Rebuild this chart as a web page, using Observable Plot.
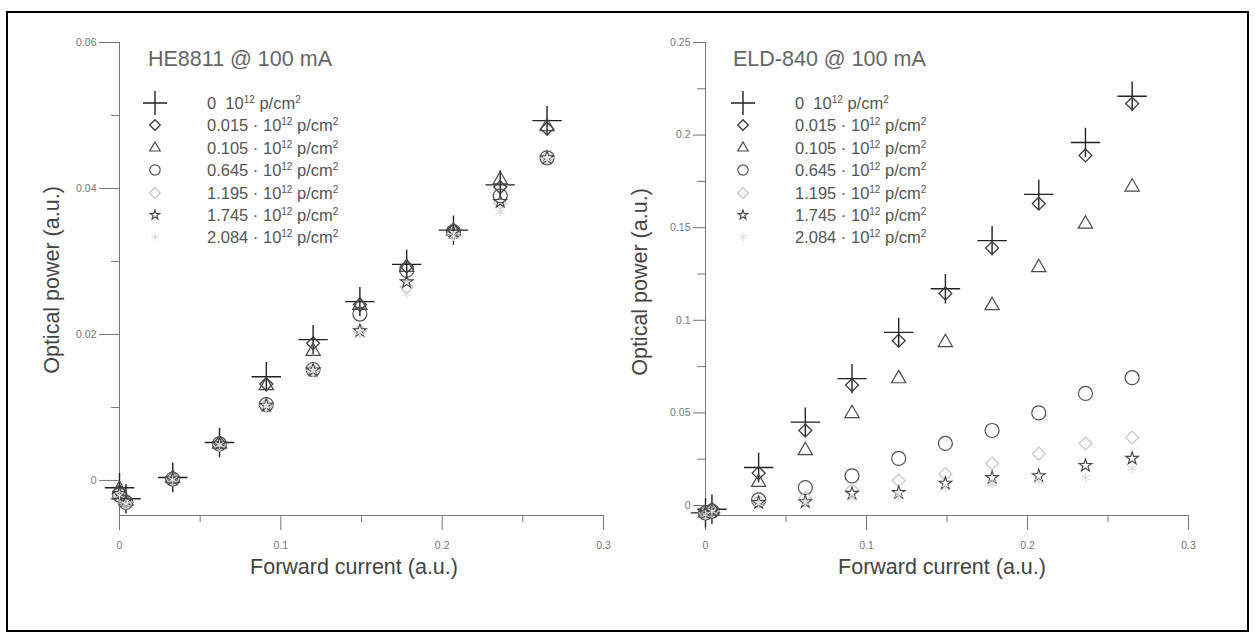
<!DOCTYPE html>
<html><head><meta charset="utf-8">
<script src="https://cdn.jsdelivr.net/npm/d3@7"></script>
<script src="https://cdn.jsdelivr.net/npm/@observablehq/plot@0.6"></script>
<style>
body{margin:0;background:#fff;font-family:"Liberation Sans",Arial,Helvetica,sans-serif;}
#page{position:relative;width:1255px;height:639px;overflow:hidden;background:#fff;}
#border{position:absolute;left:6px;top:11px;width:1243px;height:621px;border:2px solid #000;box-sizing:border-box;}
.plot{position:absolute;top:0;}
.ylab{position:absolute;font-size:21.5px;color:#444;white-space:nowrap;transform:translate(-50%,-50%) rotate(-90deg);}
.xlab{position:absolute;font-size:21.5px;color:#444;white-space:nowrap;transform:translate(-50%,-50%);}
.ltitle{position:absolute;font-size:21.5px;color:#666;white-space:nowrap;transform:translateY(-50%);}
.lrow{position:absolute;font-size:16.5px;color:#555;white-space:nowrap;transform:translateY(-50%);}
.lrow sup{font-size:10px;vertical-align:6px;line-height:0;}
.lsym{position:absolute;transform:translate(-50%,-50%);}
</style></head>
<body><div id="page"><div id="border"></div></div>
<script>
// ---------- data ----------
const current = [0, 0.004, 0.033, 0.062, 0.091, 0.120, 0.149, 0.178, 0.207, 0.236, 0.265];
const fluences = ["0", "0.015", "0.105", "0.645", "1.195", "1.745", "2.084"];

// HE8811 @ 100 mA
const he_0     = [-0.0010, -0.0025, 0.0004, 0.0052, 0.0142, 0.0193, 0.0245, 0.0296, 0.0343, 0.0405, 0.0493];
const he_0015  = [-0.0015, -0.0030, 0.0003, 0.0051, 0.0132, 0.0188, 0.0241, 0.0293, 0.0343, 0.0402, 0.0482];
const he_0105  = [-0.0012, -0.0028, 0.0003, 0.0050, 0.0130, 0.0177, 0.0240, 0.0292, 0.0342, 0.0412, 0.0485];
const he_0645  = [-0.0020, -0.0030, 0.0002, 0.0050, 0.0104, 0.0152, 0.0228, 0.0288, 0.0341, 0.0390, 0.0442];
const he_1195  = [-0.0020, -0.0030, 0.0002, 0.0049, 0.0103, 0.0151, 0.0205, 0.0265, 0.0338, 0.0380, 0.0442];
const he_1745  = [-0.0018, -0.0028, 0.0002, 0.0050, 0.0103, 0.0151, 0.0205, 0.0272, 0.0340, 0.0382, 0.0442];
const he_2084  = [-0.0020, -0.0032, 0.0001, 0.0049, 0.0102, 0.0150, 0.0203, 0.0256, 0.0335, 0.0368, 0.0440];

// ELD-840 @ 100 mA
const eld_0    = [-0.004, -0.002, 0.0205, 0.0450, 0.0685, 0.0935, 0.1170, 0.1430, 0.1680, 0.1960, 0.2210];
const eld_0015 = [-0.004, -0.002, 0.0175, 0.0405, 0.0650, 0.0890, 0.1145, 0.1390, 0.1630, 0.1890, 0.2170];
const eld_0105 = [-0.004, -0.003, 0.0125, 0.0297, 0.0497, 0.0685, 0.0880, 0.1080, 0.1285, 0.1520, 0.1720];
const eld_0645 = [-0.004, -0.003, 0.0030, 0.0097, 0.0160, 0.0254, 0.0335, 0.0405, 0.0500, 0.0605, 0.0690];
const eld_1195 = [-0.004, -0.003, 0.0020, 0.0040, 0.0085, 0.0135, 0.0170, 0.0227, 0.0280, 0.0335, 0.0367];
const eld_1745 = [-0.004, -0.003, 0.0015, 0.0020, 0.0065, 0.0070, 0.0120, 0.0150, 0.0160, 0.0216, 0.0254];
const eld_2084 = [-0.005, -0.003, 0.0010, 0.0015, 0.0040, 0.0060, 0.0095, 0.0120, 0.0130, 0.0150, 0.0200];

const leftTicks = [0, 0.02, 0.04, 0.06], leftMinor = [0.01, 0.03, 0.05];
const rightTicks = [0, 0.05, 0.1, 0.15, 0.2, 0.25], rightMinor = [0.025, 0.075, 0.125, 0.175, 0.225];
const xTicks = [0, 0.1, 0.2, 0.3], xMinor = [0.05, 0.15, 0.25];

// ---------- styles ----------
const styles = [
  {symbol: "plus",     r: 9.5, lr: 7.8, stroke: "#222",    sw: 1.4},
  {symbol: "diamond2", r: 5.8, lr: 4.8, stroke: "#3a3a3a", sw: 1.3},
  {symbol: "triangle2",r: 6.8, lr: 5.0, stroke: "#4a4a4a", sw: 1.2},
  {symbol: "circle",   r: 7.0, lr: 5.2, stroke: "#505050", sw: 1.2},
  {symbol: "diamond2", r: 5.8, lr: 4.8, stroke: "#c6c6c6", sw: 1.2},
  {symbol: "star",     r: 4.0, lr: 3.0, stroke: "#444",    sw: 1.1},
  {symbol: "asterisk", r: 4.5, lr: 4.0, stroke: "#dcdcdc", sw: 1.1}
];
const d3sym = {plus: d3.symbolPlus, diamond2: d3.symbolDiamond2, triangle2: d3.symbolTriangle2,
  circle: d3.symbolCircle, star: d3.symbolStar, asterisk: d3.symbolAsterisk};

function rows(vals) { return current.map((x, i) => ({x, y: vals[i]})); }

function makePlot(series, opts) {
  const marks = [
    Plot.frame({anchor: "left", stroke: "#777"}),
    Plot.frame({anchor: "bottom", stroke: "#777"}),
    Plot.axisX({ticks: xTicks, tickSize: 15, tickPadding: 11, tickFormat: d => String(d), label: null}),
    Plot.axisX({ticks: xMinor, tickSize: 7, tickFormat: () => "", label: null}),
    Plot.axisY({ticks: opts.yTicks, tickSize: opts.ySize, tickPadding: 3, tickFormat: d => String(d), label: null}),
    Plot.axisY({ticks: opts.yMinor, tickSize: 8, tickFormat: () => "", label: null})
  ];
  series.forEach((vals, i) => {
    const s = styles[i];
    marks.push(Plot.dot(rows(vals), {x: "x", y: "y", symbol: s.symbol, r: s.r, stroke: s.stroke, strokeWidth: s.sw, fill: "none"}));
  });
  return Plot.plot({
    width: 620, height: 600,
    marginLeft: opts.ml, marginRight: opts.mr, marginTop: 42, marginBottom: 85,
    style: {fontSize: "10.5px", color: "#777", background: "transparent", fontFamily: "'Liberation Sans',Arial,sans-serif"},
    x: {domain: [0, 0.3]},
    y: {domain: opts.yDomain},
    marks
  });
}

const page = document.getElementById("page");
function addPlot(el, left) { el.classList.add("plot"); el.style.left = left + "px"; page.appendChild(el); }

addPlot(makePlot([he_0, he_0015, he_0105, he_0645, he_1195, he_1745, he_2084],
  {ml: 119, mr: 17, yDomain: [-0.0048, 0.06], yTicks: leftTicks, yMinor: leftMinor, ySize: 20}), 0);
addPlot(makePlot([eld_0, eld_0015, eld_0105, eld_0645, eld_1195, eld_1745, eld_2084],
  {ml: 85, mr: 52, yDomain: [-0.0054, 0.25], yTicks: rightTicks, yMinor: rightMinor, ySize: 12}), 620);

function addText(cls, html, x, y) {
  const d = document.createElement("div"); d.className = cls; d.innerHTML = html;
  d.style.left = x + "px"; d.style.top = y + "px"; page.appendChild(d);
}
addText("ylab", "Optical power (a.u.)", 52, 280);
addText("ylab", "Optical power (a.u.)", 640, 282);
addText("xlab", "Forward current (a.u.)", 354, 567);
addText("xlab", "Forward current (a.u.)", 942, 567);

function legend(title, x0, symX, textX) {
  addText("ltitle", title, x0, 59);
  fluences.forEach((f, i) => {
    const y = 103 + i * 22.4;
    const s = styles[i];
    const size = Math.PI * s.lr * s.lr;
    const svg = d3.create("svg").attr("class", "lsym").attr("width", 24).attr("height", 24)
      .style("left", symX + "px").style("top", y + "px");
    svg.append("path").attr("transform", "translate(12,12)")
      .attr("d", d3.symbol(d3sym[s.symbol], size)()).attr("fill", "none")
      .attr("stroke", s.stroke).attr("stroke-width", s.sw);
    page.appendChild(svg.node());
    const lab = f === "0" ? "0&nbsp; 10<sup>12</sup> p/cm<sup>2</sup>" : f + " · 10<sup>12</sup> p/cm<sup>2</sup>";
    addText("lrow", lab, textX, y);
  });
}
legend("HE8811 @ 100 mA", 148, 155, 207);
legend("ELD-840 @ 100 mA", 733, 743, 795);
</script></body></html>
